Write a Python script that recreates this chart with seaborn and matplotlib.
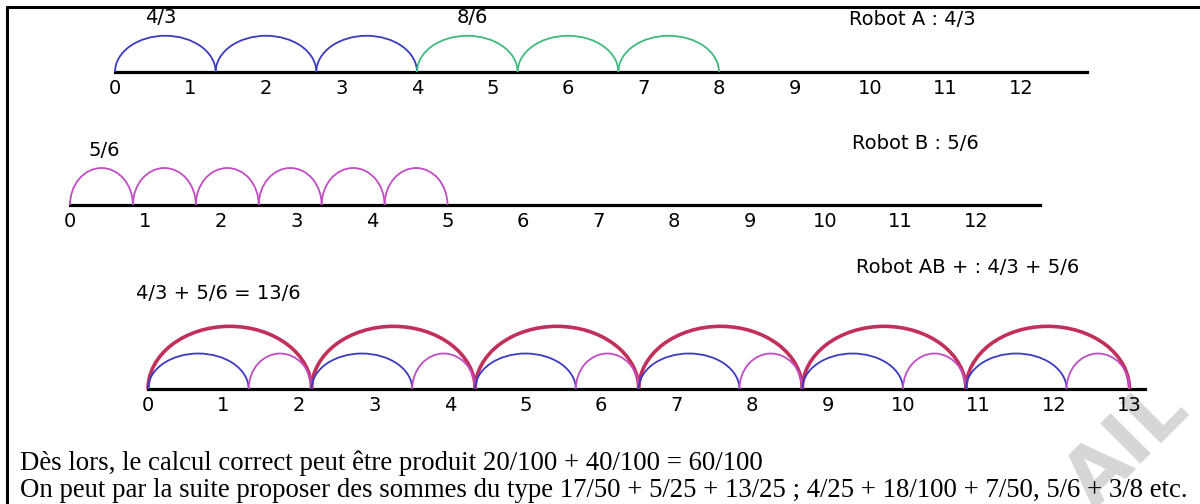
import numpy as np
import seaborn as sns
import matplotlib.pyplot as plt
from matplotlib.patches import Arc
from matplotlib.lines import Line2D

sns.set_style("white")
plt.rcParams['font.family'] = ['DejaVu Sans']
plt.rcParams['text.color'] = 'black'

# jumps of each robot on its number line
a_jumps = [4/3, 4/3, 4/3, 8/6, 8/6, 8/6]
a_colors = ['#3b3bc2', '#3b3bc2', '#3b3bc2', '#3dba7c', '#3dba7c', '#3dba7c']
b_jumps = [5/6, 5/6, 5/6, 5/6, 5/6, 5/6]
ab_jumps = [13/6, 13/6, 13/6, 13/6, 13/6, 13/6]
ab_inner = [4/3, 5/6]          # blue then pink inside each big jump

ticks_a = [0, 1, 2, 3, 4, 5, 6, 7, 8, 9, 10, 11, 12]
ticks_b = [0, 1, 2, 3, 4, 5, 6, 7, 8, 9, 10, 11, 12]
ticks_ab = [0, 1, 2, 3, 4, 5, 6, 7, 8, 9, 10, 11, 12, 13]

texte1 = "Dès lors, le calcul correct peut être produit 20/100 + 40/100 = 60/100"
texte2 = ("On peut par la suite proposer des sommes du type 17/50 + 5/25 + 13/25 ; "
          "4/25 + 18/100 + 7/50, 5/6 + 3/8 etc.")

W, H = 1200, 504
U = 75.5   # pixels per unit

BLUE, PINK, CRIMSON = '#3b3bc2', '#c24cc4', '#c0305a'

fig = plt.figure(figsize=(12, 5.04), dpi=100)

# watermark first, under everything
fig.text(1128 / W, 1 - 446 / H, "AIL", rotation=45, rotation_mode='anchor',
         ha='center', va='center', fontsize=56, fontweight='bold',
         color='#d6d6d6', zorder=-1)


def number_line(x0, y0, end, ticks):
    # one full-figure axes, data units = number line units
    ax = fig.add_axes([0, 0, 1, 1])
    ax.patch.set_alpha(0)
    ax.set_xlim(-x0 / U, (W - x0) / U)
    ax.set_ylim(-(H - y0) / U, y0 / U)
    for s in ['top', 'left', 'right']:
        ax.spines[s].set_visible(False)
    ax.spines['bottom'].set_position(('data', 0))
    ax.spines['bottom'].set_bounds(0, end)
    ax.spines['bottom'].set_linewidth(2.3)
    ax.spines['bottom'].set_color('black')
    ax.set_xticks(ticks)
    ax.set_xticklabels([str(t) for t in ticks])
    ax.tick_params(axis='x', direction='in', length=9, width=2.2,
                   labelsize=14, pad=5, colors='black')
    ax.set_yticks([])
    return ax


def arcs(ax, jumps, height, colors, lw, start=0.0):
    pos = start + np.concatenate([[0], np.cumsum(jumps)[:-1]])
    for p, j, c in zip(pos, jumps, colors):
        ax.add_patch(Arc((p + j / 2, 0), j, 2 * height, theta1=0, theta2=180,
                         color=c, lw=lw, zorder=3))


# Robot A
axA = number_line(115, 72, 12.87, ticks_a)
arcs(axA, a_jumps, 0.48, a_colors, 1.3)
axA.text(0.6, 0.72, "4/3", ha='center', va='center', fontsize=14)
axA.text(4.73, 0.72, "8/6", ha='center', va='center', fontsize=14)
axA.text(10.56, 0.69, "Robot A : 4/3", ha='center', va='center', fontsize=14)

# Robot B
axB = number_line(70, 205, 12.85, ticks_b)
arcs(axB, b_jumps, 0.49, [PINK] * len(b_jumps), 1.3)
axB.text(0.46, 0.72, "5/6", ha='center', va='center', fontsize=14)
axB.text(11.2, 0.81, "Robot B : 5/6", ha='center', va='center', fontsize=14)

# Robot AB
axAB = number_line(148, 389, 13.2, ticks_ab)
arcs(axAB, ab_jumps, 0.83, [CRIMSON] * len(ab_jumps), 2.6)
starts = np.concatenate([[0], np.cumsum(ab_jumps)[:-1]])
for s in starts:
    arcs(axAB, ab_inner, 0.47, [BLUE, PINK], 1.3, start=s)
axAB.text(0.93, 1.27, "4/3 + 5/6 = 13/6", ha='center', va='center', fontsize=14)
axAB.text(10.86, 1.61, "Robot AB + : 4/3 + 5/6", ha='center', va='center', fontsize=14)

# frame
fig.add_artist(Line2D([7 / W, 1], [1 - 7 / H, 1 - 7 / H], color='black', lw=2.2))
fig.add_artist(Line2D([7 / W, 7 / W], [0, 1 - 7 / H], color='black', lw=2.2))

# bottom text
fig.text(20 / W, 1 - 470 / H, texte1, ha='left', va='baseline',
         fontsize=19.3, family='Liberation Serif')
fig.text(20 / W, 1 - 497 / H, texte2, ha='left', va='baseline',
         fontsize=19.3, family='Liberation Serif')

fig.savefig("out.png", dpi=100)
